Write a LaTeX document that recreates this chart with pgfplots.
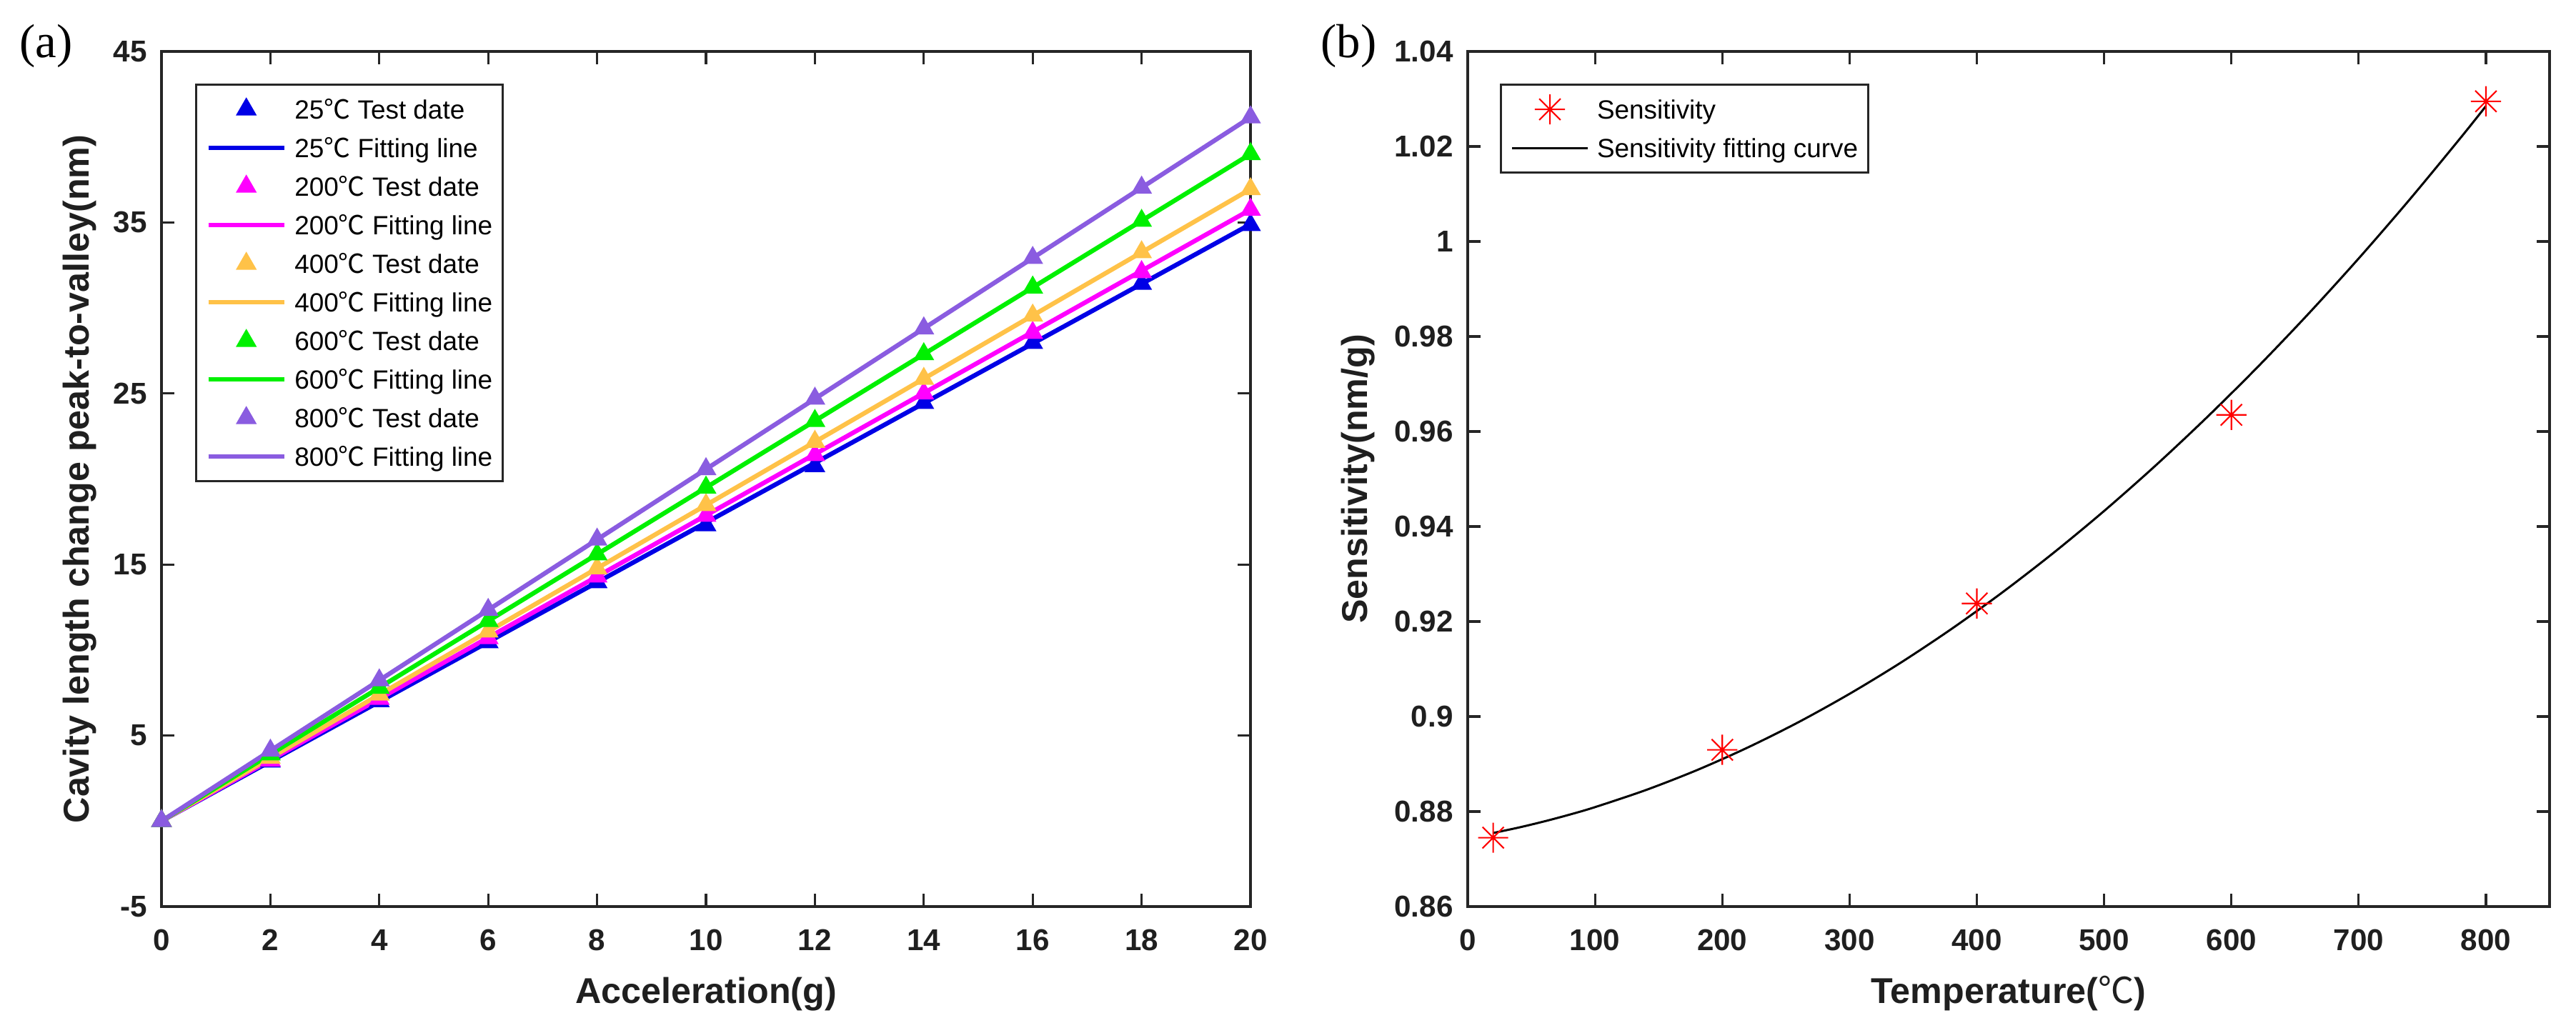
\documentclass[border=0pt]{standalone}
\usepackage{fontspec}
\setmainfont{Liberation Sans}
\newfontfamily\cjk{Noto Sans CJK SC}
\newfontfamily\serif{Liberation Serif}
\usepackage{pgfplots}
\pgfplotsset{compat=1.18}

\definecolor{c25}{RGB}{0,0,230}
\definecolor{c200}{RGB}{255,0,255}
\definecolor{c400}{RGB}{255,194,72}
\definecolor{c600}{RGB}{0,240,0}
\definecolor{c800}{RGB}{138,92,224}
\definecolor{axgray}{RGB}{38,38,38}

\newcommand{\dc}{{\cjk\mdseries ℃}}

% MATLAB-like asterisk with eight arms
\pgfdeclareplotmark{ast8}{%
  \pgfpathmoveto{\pgfpoint{-\pgfplotmarksize}{0pt}}%
  \pgfpathlineto{\pgfpoint{\pgfplotmarksize}{0pt}}%
  \pgfpathmoveto{\pgfpoint{0pt}{-\pgfplotmarksize}}%
  \pgfpathlineto{\pgfpoint{0pt}{\pgfplotmarksize}}%
  \pgfpathmoveto{\pgfpoint{-0.7071\pgfplotmarksize}{-0.7071\pgfplotmarksize}}%
  \pgfpathlineto{\pgfpoint{0.7071\pgfplotmarksize}{0.7071\pgfplotmarksize}}%
  \pgfpathmoveto{\pgfpoint{-0.7071\pgfplotmarksize}{0.7071\pgfplotmarksize}}%
  \pgfpathlineto{\pgfpoint{0.7071\pgfplotmarksize}{-0.7071\pgfplotmarksize}}%
  \pgfusepathqstroke}

\pgfplotsset{
  matlab/.style={
    scale only axis,
    clip=false,
    axis line style={axgray, line width=0.9pt},
    tick style={axgray, line width=0.9pt},
    tick align=inside,
    major tick length=1.8mm,
    /pgf/number format/assume math mode=true,
    tick label style={font=\fontsize{12}{14}\selectfont\bfseries, text=black!88},
    label style={font=\fontsize{14.3}{16}\selectfont\bfseries, text=black!88},
    xticklabel style={yshift=-2mm},
    yticklabel style={xshift=-0.8mm},
    legend cell align=left,
    legend image code/.code={\draw[mark repeat=2,mark phase=2,##1] plot coordinates {(0mm,0mm) (5.3mm,0mm) (10.6mm,0mm)};},
    legend style={draw=axgray, line width=0.9pt, fill=white,
      inner xsep=1.4mm, inner ysep=0.75mm, row sep=0pt,
      font=\fontsize{10.5}{12}\selectfont,
      nodes={inner sep=0pt, text height=4.03mm, text depth=1.37mm},
      /tikz/every odd column/.append style={column sep=1.15mm}},
  },
  testdata/.style={only marks, mark=triangle*, mark size=4.4pt, line width=0.4pt, color=#1},
  fitline/.style={no marks, line width=1.8pt, color=#1},
}

\begin{document}
\begin{tikzpicture}
\path[use as bounding box] (0,0) rectangle (360.5mm,144.5mm);

\node[font=\serif\fontsize{19}{22}\selectfont, anchor=west, inner sep=0pt] at (2.7mm,138.1mm) {(a)};
\node[font=\serif\fontsize{19}{22}\selectfont, anchor=west, inner sep=0pt] at (184.8mm,138.1mm) {(b)};

% (a) cavity length change vs acceleration
\begin{axis}[matlab,
  at={(22.6mm,17.6mm)}, anchor=south west,
  width=152.4mm, height=119.7mm,
  xmin=0, xmax=20, ymin=-5, ymax=45,
  xtick={0,2,...,20}, ytick={-5,5,...,45},
  xlabel={Acceleration(g)},
  ylabel={Cavity length change peak-to-valley(nm)},
  xlabel style={at={(axis description cs:0.5,-0.1136)}, anchor=base},
  ylabel style={at={(axis description cs:-0.0663,0.5)}, anchor=base},
  legend style={at={(axis description cs:0.0308,0.9624)}, anchor=north west},
]
\addplot[testdata=c25] coordinates {(0,0) (2,3.48) (4,7.01) (6,10.46) (8,13.97) (10,17.30) (12,20.75) (14,24.45) (16,27.96) (18,31.42) (20,34.85)};
\addlegendentry{25\dc{} Test date}
\addplot[fitline=c25] coordinates {(0,0) (20,34.90)};
\addlegendentry{25\dc{} Fitting line}
\addplot[testdata=c200] coordinates {(0,0) (2,3.55) (4,7.15) (6,10.70) (8,14.30) (10,17.85) (12,21.40) (14,25.00) (16,28.55) (18,32.10) (20,35.75)};
\addlegendentry{200\dc{} Test date}
\addplot[fitline=c200] coordinates {(0,0) (20,35.75)};
\addlegendentry{200\dc{} Fitting line}
\addplot[testdata=c400] coordinates {(0,0) (2,3.70) (4,7.40) (6,11.08) (8,14.78) (10,18.48) (12,22.18) (14,25.86) (16,29.56) (18,33.26) (20,36.95)};
\addlegendentry{400\dc{} Test date}
\addplot[fitline=c400] coordinates {(0,0) (20,36.95)};
\addlegendentry{400\dc{} Fitting line}
\addplot[testdata=c600] coordinates {(0,0) (2,3.90) (4,7.80) (6,11.70) (8,15.60) (10,19.50) (12,23.40) (14,27.30) (16,31.20) (18,35.10) (20,39.00)};
\addlegendentry{600\dc{} Test date}
\addplot[fitline=c600] coordinates {(0,0) (20,39.00)};
\addlegendentry{600\dc{} Fitting line}
\addplot[testdata=c800] coordinates {(0,0) (2,4.12) (4,8.23) (6,12.35) (8,16.46) (10,20.58) (12,24.70) (14,28.81) (16,32.93) (18,37.04) (20,41.15)};
\addlegendentry{800\dc{} Test date}
\addplot[fitline=c800] coordinates {(0,0) (20,41.15)};
\addlegendentry{800\dc{} Fitting line}
\end{axis}

% (b) sensitivity vs temperature
\begin{axis}[matlab,
  at={(205.4mm,17.6mm)}, anchor=south west,
  width=151.4mm, height=119.7mm,
  xmin=0, xmax=850, ymin=0.86, ymax=1.04,
  xtick={0,100,...,800},
  ytick={0.86,0.88,0.90,0.92,0.94,0.96,0.98,1.00,1.02,1.04},
  yticklabels={0.86,0.88,0.9,0.92,0.94,0.96,0.98,1,1.02,1.04},
  xlabel={Temperature(\dc)},
  ylabel={Sensitivity(nm/g)},
  xlabel style={at={(axis description cs:0.5,-0.1136)}, anchor=base},
  ylabel style={at={(axis description cs:-0.0931,0.5)}, anchor=base},
  legend style={at={(axis description cs:0.0297,0.9624)}, anchor=north west},
]
\addplot[only marks, mark=ast8, mark size=6pt, line width=0.6pt, color=red] coordinates {(20,0.8745) (200,0.8930) (400,0.9238) (600,0.9635) (800,1.0295)};
\addlegendentry{Sensitivity}
\addplot[no marks, smooth, line width=0.85pt, color=black] coordinates {
  (20,0.87549) (40,0.87663) (60,0.87792) (80,0.87935) (100,0.88093)
  (140,0.88453) (180,0.88871) (220,0.89348) (260,0.89883) (300,0.90478)
  (340,0.91130) (380,0.91842) (420,0.92612) (460,0.93440) (500,0.94327)
  (540,0.95273) (580,0.96278) (620,0.97340) (660,0.98462) (700,0.99642)
  (740,1.00881) (780,1.02179) (800,1.02850)};
\addlegendentry{Sensitivity fitting curve}
\end{axis}
\end{tikzpicture}
\end{document}
